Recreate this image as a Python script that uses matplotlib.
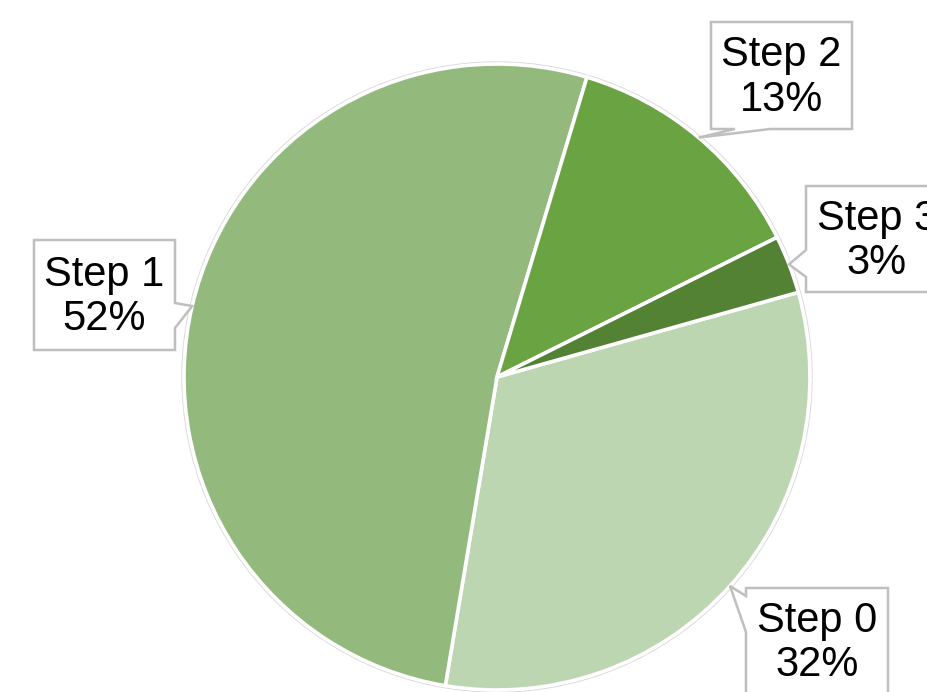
import numpy as np
import matplotlib.pyplot as plt
from matplotlib.patches import Polygon, Circle

plt.rcParams["font.family"] = ["Liberation Sans", "DejaVu Sans"]

# data
steps = ["Step 0", "Step 1", "Step 2", "Step 3"]
shares = [32, 52, 13, 3]
colors = ["#BDD6B2", "#93BA7C", "#69A342", "#548235"]

# layout (pixel coords, y measured from top)
W, H = 928, 692
CX, CY, R = 497, 377, 313
START = 74.3  # degrees clockwise from 12 o'clock where Step 0 begins

# label boxes: (x0, y0, x1, y1), side of the pointer, attach range along that side
boxes = {
    "Step 0": ((746, 588, 888, 700), "left", (596, 632)),
    "Step 1": ((34, 240, 175, 350), "right", (303, 328)),
    "Step 2": ((711, 22, 852, 129), "bottom", (735, 770)),
    "Step 3": ((806, 186, 948, 292), "left", (250, 277)),
}

fig = plt.figure(figsize=(W / 100, H / 100), dpi=100)
ax = fig.add_axes([0, 0, 1, 1])
ax.set_xlim(0, W)
ax.set_ylim(0, H)
ax.set_aspect("equal")
ax.axis("off")

ax.add_patch(Circle((CX, H - CY), R + 2, fill=False, ec="#D9D9D9", lw=1.0, zorder=0))
wedges, _ = ax.pie(shares, colors=colors, center=(CX, H - CY), radius=R,
                   startangle=90 - START, counterclock=False,
                   wedgeprops=dict(edgecolor="white", linewidth=2.6))
ax.set_xlim(0, W)
ax.set_ylim(0, H)


def callout(box, side, rng, tip):
    x0, y0, x1, y1 = box
    a, b = rng
    if side == "left":
        pts = [(x0, y0), (x1, y0), (x1, y1), (x0, y1), (x0, b), tip, (x0, a)]
    elif side == "right":
        pts = [(x0, y0), (x1, y0), (x1, a), tip, (x1, b), (x1, y1), (x0, y1)]
    else:  # bottom
        pts = [(x0, y0), (x1, y0), (x1, y1), (b, y1), tip, (a, y1), (x0, y1)]
    return [(px, H - py) for px, py in pts]


total = sum(shares)
cum = START
for name, val in zip(steps, shares):
    span = 360 * val / total
    mid = np.radians(cum + span / 2)
    cum += span
    tip = (CX + R * np.sin(mid), CY - R * np.cos(mid))
    box, side, rng = boxes[name]
    ax.add_patch(Polygon(callout(box, side, rng, tip), closed=True, fc="white",
                         ec="#BFBFBF", lw=1.8, zorder=3, clip_on=False))
    tx = (box[0] + box[2]) / 2
    ty = (box[1] + box[3]) / 2 if name != "Step 0" else 641
    ax.text(tx, H - ty - 2, f"{name}\n{val}%", ha="center", va="center",
            fontsize=30, linespacing=1.15, color="black", zorder=4)

fig.savefig("out.png", dpi=100)
